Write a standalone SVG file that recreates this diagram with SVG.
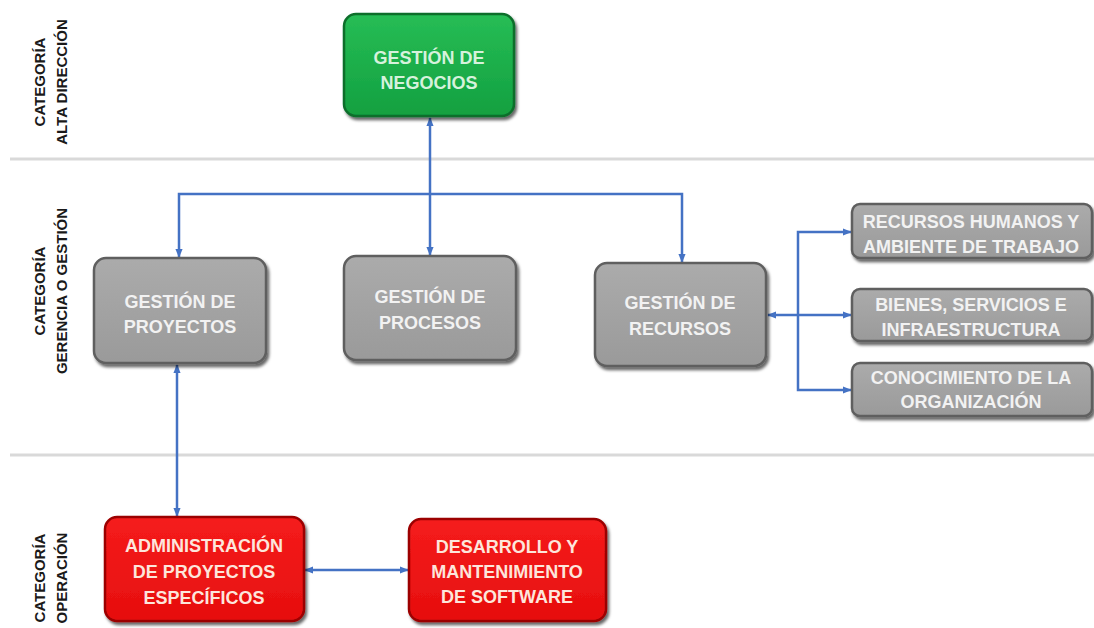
<svg xmlns="http://www.w3.org/2000/svg" width="1094" height="628" viewBox="0 0 1094 628">
<defs>
<linearGradient id="gGreen" x1="0" y1="0" x2="0" y2="1">
<stop offset="0" stop-color="#27bd55"/><stop offset="1" stop-color="#12a040"/>
</linearGradient>
<linearGradient id="gGray" x1="0" y1="0" x2="0" y2="1">
<stop offset="0" stop-color="#ababab"/><stop offset="1" stop-color="#9a9a9a"/>
</linearGradient>
<linearGradient id="gRed" x1="0" y1="0" x2="0" y2="1">
<stop offset="0" stop-color="#f51c1c"/><stop offset="1" stop-color="#e60e0e"/>
</linearGradient>
<filter id="sh" x="-10%" y="-10%" width="125%" height="130%">
<feDropShadow dx="2" dy="3" stdDeviation="1.8" flood-color="#000" flood-opacity="0.6"/>
</filter>
<marker id="ah" viewBox="0 0 10 10" refX="9" refY="5" markerWidth="9" markerHeight="9" markerUnits="userSpaceOnUse" orient="auto-start-reverse">
<path d="M0,1 L10,5 L0,9 z" fill="#4472c4"/>
</marker>
</defs>
<style>
.sep{stroke:#d9d9d9;stroke-width:3;fill:none}
.side{font-family:"Liberation Sans",Arial,sans-serif;font-weight:bold;font-size:15px;fill:#1a1a1a;text-anchor:middle}
.box{filter:url(#sh)}
.green{fill:url(#gGreen);stroke:#0b6e2c;stroke-width:2.5}
.gray{fill:url(#gGray);stroke:#5f5f5f;stroke-width:2.5}
.red{fill:url(#gRed);stroke:#9c0000;stroke-width:2.5}
.t{font-family:"Liberation Sans",Arial,sans-serif;font-weight:bold;font-size:18px;text-anchor:middle}
.tg{fill:#d6f2dc}
.tw{fill:#f2f2f2}
.tr{fill:#fde6dc}
.c{stroke:#4472c4;stroke-width:2.5;fill:none}
</style>

<g id="separators">
<line class="sep" x1="10" y1="159" x2="1094" y2="159"/>
<line class="sep" x1="10" y1="455" x2="1094" y2="455"/>
</g>

<g id="labels">
<text class="side" transform="translate(45,82) rotate(-90)">CATEGORÍA</text>
<text class="side" transform="translate(67,82) rotate(-90)">ALTA DIRECCIÓN</text>
<text class="side" transform="translate(45,291) rotate(-90)">CATEGORÍA</text>
<text class="side" transform="translate(67,291) rotate(-90)">GERENCIA O GESTIÓN</text>
<text class="side" transform="translate(45,578) rotate(-90)">CATEGORÍA</text>
<text class="side" transform="translate(67,578) rotate(-90)">OPERACIÓN</text>
</g>

<g id="connectors">
<line class="c" x1="430" y1="118" x2="430" y2="255" marker-start="url(#ah)" marker-end="url(#ah)"/>
<polyline class="c" points="179,257 179,194 682,194 682,262" marker-start="url(#ah)" marker-end="url(#ah)"/>
<line class="c" x1="177" y1="365" x2="177" y2="516" marker-start="url(#ah)" marker-end="url(#ah)"/>
<line class="c" x1="768" y1="315" x2="851" y2="315" marker-start="url(#ah)" marker-end="url(#ah)"/>
<polyline class="c" points="851,232 798,232 798,390 851,390" marker-start="url(#ah)" marker-end="url(#ah)"/>
<line class="c" x1="305" y1="570" x2="408" y2="570" marker-start="url(#ah)" marker-end="url(#ah)"/>
</g>

<g id="n-negocios">
<rect class="box green" x="344" y="14" width="170" height="102" rx="12"/>
<text class="t tg" x="429" y="64">GESTIÓN DE</text>
<text class="t tg" x="429" y="89">NEGOCIOS</text>
</g>

<g id="n-proyectos">
<rect class="box gray" x="94" y="258" width="172" height="105" rx="12"/>
<text class="t tw" x="180" y="308">GESTIÓN DE</text>
<text class="t tw" x="180" y="333">PROYECTOS</text>
</g>

<g id="n-procesos">
<rect class="box gray" x="344" y="256" width="172" height="104" rx="12"/>
<text class="t tw" x="430" y="303">GESTIÓN DE</text>
<text class="t tw" x="430" y="329">PROCESOS</text>
</g>

<g id="n-recursos">
<rect class="box gray" x="595" y="263" width="171" height="103" rx="12"/>
<text class="t tw" x="680" y="309">GESTIÓN DE</text>
<text class="t tw" x="680" y="335">RECURSOS</text>
</g>

<g id="n-rrhh">
<rect class="box gray" x="852" y="204" width="240" height="54" rx="8"/>
<text class="t tw" x="971" y="228">RECURSOS HUMANOS Y</text>
<text class="t tw" x="971" y="253">AMBIENTE DE TRABAJO</text>
</g>

<g id="n-bienes">
<rect class="box gray" x="852" y="289" width="240" height="52" rx="8"/>
<text class="t tw" x="971" y="311">BIENES, SERVICIOS E</text>
<text class="t tw" x="971" y="336">INFRAESTRUCTURA</text>
</g>

<g id="n-conocimiento">
<rect class="box gray" x="852" y="363" width="240" height="53" rx="8"/>
<text class="t tw" x="971" y="384">CONOCIMIENTO DE LA</text>
<text class="t tw" x="971" y="408">ORGANIZACIÓN</text>
</g>

<g id="n-administracion">
<rect class="box red" x="105" y="517" width="199" height="104" rx="12"/>
<text class="t tr" x="204" y="552">ADMINISTRACIÓN</text>
<text class="t tr" x="204" y="578">DE PROYECTOS</text>
<text class="t tr" x="204" y="604">ESPECÍFICOS</text>
</g>

<g id="n-desarrollo">
<rect class="box red" x="409" y="519" width="197" height="102" rx="12"/>
<text class="t tr" x="507" y="553">DESARROLLO Y</text>
<text class="t tr" x="507" y="578">MANTENIMIENTO</text>
<text class="t tr" x="507" y="603">DE SOFTWARE</text>
</g>
</svg>
